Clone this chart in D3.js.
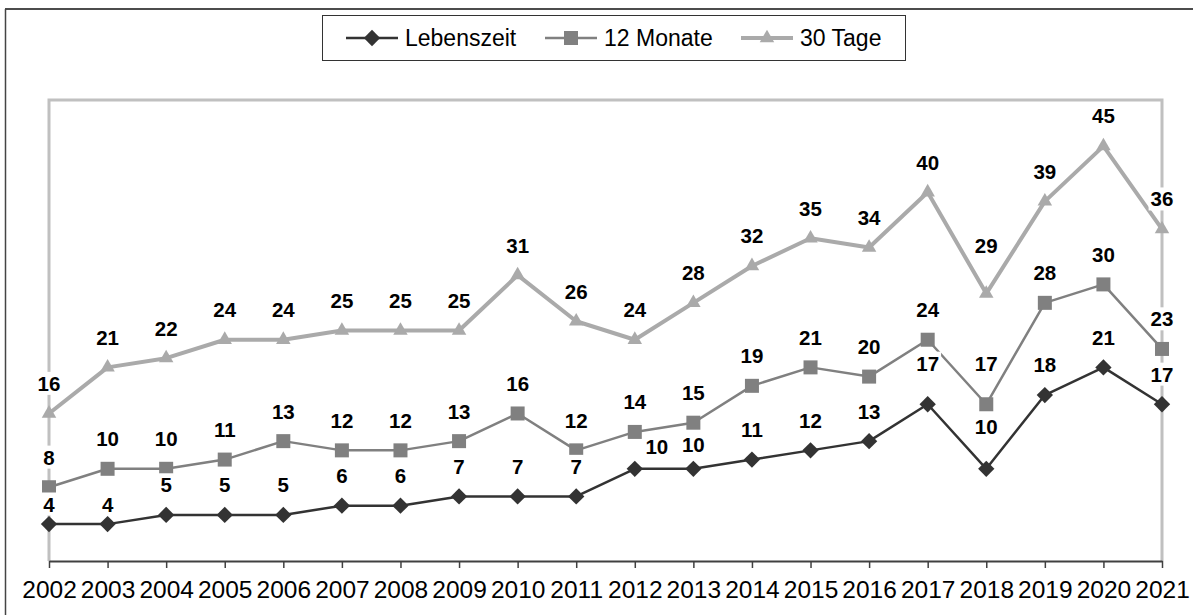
<!DOCTYPE html>
<html>
<head>
<meta charset="utf-8">
<script src="https://cdn.jsdelivr.net/npm/d3@7"></script>
<style>
  body { margin: 0; background: #fff; }
  svg { display: block; font-family: Arial, "Liberation Sans", sans-serif; }
</style>
</head>
<body>
<div class="graph"></div>
<script>
/*---------- DATA ----------*/

const years = ["2002","2003","2004","2005","2006","2007","2008","2009","2010","2011",
               "2012","2013","2014","2015","2016","2017","2018","2019","2020","2021"];
const lebenszeit = [4,4,5,5,5,6,6,7,7,7,10,10,11,12,13,17,10,18,21,17];
const monate12 = [8,10,10,11,13,12,12,13,16,12,14,15,19,21,20,24,17,28,30,23];
const tage30 = [16,21,22,24,24,25,25,25,31,26,24,28,32,35,34,40,29,39,45,36];
const seriesNames = ["Lebenszeit", "12 Monate", "30 Tage"];

/*---------- D3 STUFF ----------*/

//define dimensions
const SIZE = {X: 1193, Y: 615};
const PLOT = {LEFT: 49, RIGHT: 1162, TOP: 100, BOTTOM: 561};

//series styles
const STYLE = {
    "Lebenszeit": {color: "#333333", width: 2.5, symbol: d3.symbolDiamond2, size: 170},
    "12 Monate": {color: "#808080", width: 2.5, symbol: d3.symbolSquare2, size: 250},
    "30 Tage": {color: "#aaaaaa", width: 4, symbol: d3.symbolTriangle2, size: 150}
};

//some labels were moved by hand in the original
const labelNudge = {
    "Lebenszeit-2002": [0, 10], "Lebenszeit-2003": [0, 10],
    "Lebenszeit-2012": [22, 8], "Lebenszeit-2013": [0, 6],
    "Lebenszeit-2017": [0, -11], "Lebenszeit-2018": [0, -12],
    "12 Monate-2018": [0, -11], "30 Tage-2018": [0, -18]
};

const svg = d3.select(".graph").append("svg")
    .attr("width", SIZE.X)
    .attr("height", SIZE.Y);

//outer frame (top and left edge visible)
svg.append("line")
    .attr("x1", 5).attr("x2", SIZE.X)
    .attr("y1", 9).attr("y2", 9)
    .attr("stroke", "#111").attr("stroke-width", 1.5);
svg.append("line")
    .attr("x1", 5.5).attr("x2", 5.5)
    .attr("y1", 9).attr("y2", SIZE.Y)
    .attr("stroke", "#444").attr("stroke-width", 1.5);

//scales
const x = d3.scalePoint()
    .domain(years)
    .range([PLOT.LEFT, PLOT.RIGHT]);

const y = d3.scaleLinear()
    .domain([0, 50])
    .range([PLOT.BOTTOM, PLOT.TOP]);

//plot area border (left, top, right)
svg.append("path")
    .attr("d", `M${PLOT.LEFT},${PLOT.BOTTOM}V${PLOT.TOP}H${PLOT.RIGHT}V${PLOT.BOTTOM}`)
    .attr("fill", "none")
    .attr("stroke", "#c0c0c0")
    .attr("stroke-width", 3);

//x axis
const xAxis = svg.append("g")
    .attr("class", "x axis")
    .attr("transform", `translate(0, ${PLOT.BOTTOM})`)
    .call(d3.axisBottom(x).tickSize(7).tickPadding(13).tickSizeOuter(0));

xAxis.attr("font-size", null).attr("font-family", null);
xAxis.select(".domain").attr("stroke", "#404040").attr("stroke-width", 2);
xAxis.selectAll(".tick line").attr("stroke", "#404040").attr("stroke-width", 1.5);
xAxis.selectAll(".tick text")
    .attr("fill", "#000")
    .style("font-size", "24.5px");

//build series table
const series = seriesNames.map((name, i) => ({
    name: name,
    values: [lebenszeit, monate12, tage30][i].map((v, j) => ({year: years[j], value: v}))
}));

const line = d3.line()
    .x(d => x(d.year))
    .y(d => y(d.value));

const seriesG = svg.selectAll("g.series")
    .data(series)
    .enter()
    .append("g")
    .attr("class", "series");

seriesG.append("path")
    .attr("fill", "none")
    .attr("stroke", d => STYLE[d.name].color)
    .attr("stroke-width", d => STYLE[d.name].width)
    .attr("stroke-linejoin", "round")
    .attr("d", d => line(d.values));

seriesG.selectAll("path.marker")
    .data(d => d.values.map(v => Object.assign({name: d.name}, v)))
    .enter()
    .append("path")
    .attr("class", "marker")
    .attr("transform", d => `translate(${x(d.year)}, ${y(d.value)})`)
    .attr("d", d => d3.symbol().type(STYLE[d.name].symbol).size(STYLE[d.name].size)())
    .attr("fill", d => STYLE[d.name].color);

//data labels with white background, on top of everything
const labels = svg.append("g").attr("class", "labels");

series.forEach(s => {
    s.values.forEach(d => {
        const nudge = labelNudge[s.name + "-" + d.year] || [0, 0];
        const lx = x(d.year) + nudge[0];
        const ly = y(d.value) - 30 + nudge[1];
        const g = labels.append("g").attr("transform", `translate(${lx}, ${ly})`);
        const t = g.append("text")
            .attr("text-anchor", "middle")
            .attr("dy", "0.36em")
            .style("font-size", "20.5px")
            .style("font-weight", "bold")
            .attr("fill", "#000")
            .text(d3.format("d")(d.value));
        const bb = t.node().getBBox();
        g.insert("rect", "text")
            .attr("x", bb.x - 2)
            .attr("y", bb.y)
            .attr("width", bb.width + 4)
            .attr("height", bb.height)
            .attr("fill", "#fff");
    });
});

//legend
const legend = svg.append("g").attr("class", "legend");

legend.append("rect")
    .attr("x", 322.5).attr("y", 15.5)
    .attr("width", 583).attr("height", 45)
    .attr("fill", "#fff")
    .attr("stroke", "#333")
    .attr("stroke-width", 1);

const legendX = [346, 545, 741];

seriesNames.forEach((name, i) => {
    const st = STYLE[name];
    const g = legend.append("g").attr("transform", `translate(${legendX[i]}, 38)`);
    g.append("line")
        .attr("x1", 0).attr("x2", 52)
        .attr("stroke", st.color)
        .attr("stroke-width", st.width);
    g.append("path")
        .attr("transform", "translate(26, 0)")
        .attr("d", d3.symbol().type(st.symbol).size(st.size)())
        .attr("fill", st.color);
    g.append("text")
        .attr("x", 59)
        .attr("dy", "0.36em")
        .style("font-size", "23px")
        .attr("fill", "#000")
        .text(name);
});
</script>
</body>
</html>
